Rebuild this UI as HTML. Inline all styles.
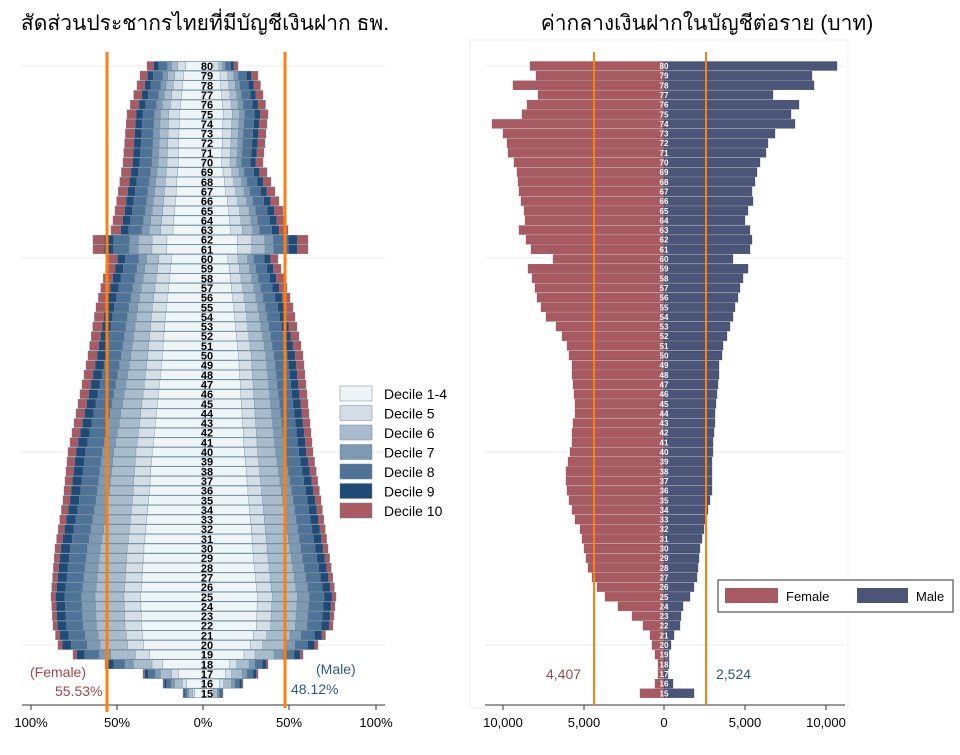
<!DOCTYPE html>
<html><head><meta charset="utf-8"><style>
body{margin:0;background:#fff;width:960px;height:750px;overflow:hidden;font-family:"Liberation Sans","Noto Sans CJK SC",sans-serif}
</style></head><body>
<svg id="s" width="960" height="750" xmlns="http://www.w3.org/2000/svg" font-family="Liberation Sans, Noto Sans CJK SC, sans-serif">
<text x="205" y="30" font-size="21" text-anchor="middle" fill="#000">สัดส่วนประชากรไทยที่มีบัญชีเงินฝาก ธพ.</text>
<text x="707" y="30" font-size="21" text-anchor="middle" fill="#000">ค่ากลางเงินฝากในบัญชีต่อราย (บาท)</text>
<rect x="470" y="40" width="378" height="668" fill="#fff" stroke="#eef2f2"/>
<g id="g"></g>
</svg>
<script>
var g=document.getElementById('g'),h='';
function interp(k,a){for(var i=0;i<k.length-1;i++){if(a<=k[i][0]&&a>=k[i+1][0]){var t=(a-k[i+1][0])/(k[i][0]-k[i+1][0]);return k[i+1][1]+t*(k[i][1]-k[i+1][1]);}}return k[k.length-1][1];}
var F=[[80,56],[79,63],[78,66],[75,76],[70,80],[65,88],[63,92],[62,110],[61,110],[60,95],[55,107],[50,115],[45,125],[40,135],[35,140],[30,148],[25,152],[22,150],[20,145],[19,130],[18,98],[17,60],[16,40],[15,20]];
var M=[[80,35],[79,55],[75,65],[70,60],[65,80],[63,85],[62,105],[61,105],[60,75],[55,90],[50,100],[45,105],[40,110],[35,118],[30,125],[25,133],[22,130],[20,115],[19,100],[18,65],[17,55],[16,40],[15,20]];
var fy=[0.41,0.52,0.71,0.80,0.91,0.97,1.0], fo=[0.31,0.45,0.56,0.64,0.79,0.88,1.0];
var cols=['#eef5f7','#d3dee6','#a9bccc','#7e9ab2','#4f7396','#1f4a75','#a85a62'];
var cx=203,step=9.65,bh=9;
[66,258,452,645].forEach(function(y){h+='<line x1="22" x2="385" y1="'+y+'" y2="'+y+'" stroke="#e6eeee"/>';h+='<line x1="485" x2="845" y1="'+y+'" y2="'+y+'" stroke="#e6eeee"/>';});
for(var a=80;a>=15;a--){
 var y=66+(80-a)*step-bh/2;
 var t=Math.min(1,Math.max(0,(a-25)/45));
 var fw=interp(F,a),mw=interp(M,a);
 for(var d=6;d>=0;d--){var fr=fy[d]+(fo[d]-fy[d])*t;
  var w=fw*fr;h+='<rect x="'+(cx-w)+'" y="'+y+'" width="'+w+'" height="'+bh+'" fill="'+cols[d]+'" stroke="#6f879c" stroke-width="0.4"/>';
  w=mw*fr;h+='<rect x="'+cx+'" y="'+y+'" width="'+w+'" height="'+bh+'" fill="'+cols[d]+'" stroke="#6f879c" stroke-width="0.4"/>';}
 h+='<text x="'+(cx+4)+'" y="'+(y+bh-0.5)+'" font-size="11" font-weight="bold" text-anchor="middle">'+a+'</text>';
}
var RF=[530,536,513,538,527,522,492,503,507,508,514,517,518,519,521,524,525,519,526,531,553,528,532,535,537,541,546,556,562,567,569,572,572,573,574,575,575,573,572,572,570,568,566,566,567,569,572,575,580,582,584,586,588,592,597,605,618,632,643,650,652,655,658,658,655,640];
var RM=[837,812,814,773,799,791,795,775,768,766,760,757,755,752,753,748,745,750,752,750,733,748,743,740,738,735,733,730,727,723,722,719,719,718,717,716,715,715,714,713,713,712,712,712,712,710,708,706,704,702,700,699,698,697,694,690,683,681,680,674,671,669,669,668,673,694];
var rc=664;
for(var i=0;i<66;i++){var a=80-i,y=66+i*step-bh/2;
 h+='<rect x="'+RF[i]+'" y="'+y+'" width="'+(rc-RF[i])+'" height="'+bh+'" fill="#a85a62" stroke="#8a4a50" stroke-width="0.3"/>';
 h+='<rect x="'+rc+'" y="'+y+'" width="'+(RM[i]-rc)+'" height="'+bh+'" fill="#4a5578" stroke="#3a4464" stroke-width="0.3"/>';
 h+='<text x="'+rc+'" y="'+(y+bh-1.5)+'" font-size="8" font-weight="bold" fill="#fff" text-anchor="middle">'+a+'</text>';}
h+='<line x1="22" x2="385" y1="705" y2="705" stroke="#333"/>';
[[31,'100%'],[117,'50%'],[203,'0%'],[289,'50%'],[376,'100%']].forEach(function(p){h+='<line x1="'+p[0]+'" x2="'+p[0]+'" y1="705" y2="710" stroke="#333"/><text x="'+p[0]+'" y="727" font-size="13" text-anchor="middle">'+p[1]+'</text>';});
h+='<line x1="485" x2="845" y1="705" y2="705" stroke="#333"/>';
[[503,'10,000'],[584,'5,000'],[664,'0'],[745,'5,000'],[826,'10,000']].forEach(function(p){h+='<line x1="'+p[0]+'" x2="'+p[0]+'" y1="705" y2="710" stroke="#333"/><text x="'+p[0]+'" y="727" font-size="13" text-anchor="middle">'+p[1]+'</text>';});
h+='<line x1="107" x2="107" y1="52" y2="712" stroke="#ff7f0e" stroke-width="3"/><line x1="285" x2="285" y1="52" y2="708" stroke="#ff7f0e" stroke-width="3"/>';
h+='<line x1="594" x2="594" y1="52" y2="705" stroke="#ff7f0e" stroke-width="2"/><line x1="706" x2="706" y1="52" y2="705" stroke="#ff7f0e" stroke-width="2"/>';
h+='<text x="30" y="677" font-size="14" fill="#a04550">(Female)</text><text x="55" y="696" font-size="14" fill="#a04550">55.53%</text>';
h+='<text x="316" y="674" font-size="14" fill="#2d5a87">(Male)</text><text x="291" y="694" font-size="14" fill="#2d5a87">48.12%</text>';
h+='<text x="546" y="679" font-size="14" fill="#a04550">4,407</text><text x="716" y="679" font-size="14" fill="#2d5a87">2,524</text>';
var L=['Decile 1-4','Decile 5','Decile 6','Decile 7','Decile 8','Decile 9','Decile 10'];
for(var i=0;i<7;i++){var y=386+i*19.5;h+='<rect x="340" y="'+y+'" width="32" height="15" fill="'+cols[i]+'" stroke="#6f879c" stroke-width="0.5"/><text x="384" y="'+(y+13)+'" font-size="14">'+L[i]+'</text>';}
h+='<rect x="718" y="580" width="235" height="32" fill="#fff" stroke="#333"/><rect x="725" y="588" width="53" height="15" fill="#a85a62"/><text x="786" y="601" font-size="13">Female</text><rect x="857" y="588" width="51" height="15" fill="#4a5578"/><text x="916" y="601" font-size="13">Male</text>';
g.innerHTML=h;
</script>
</body></html>
